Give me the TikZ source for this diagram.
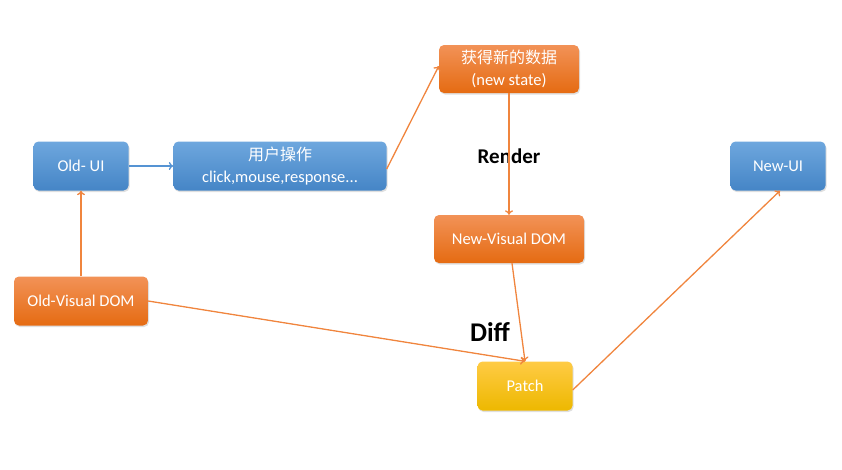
\documentclass[tikz,border=0pt]{standalone}
\usepackage{fontspec}
\setmainfont{Carlito}
\newfontfamily\cjk{Noto Sans CJK SC}
\usetikzlibrary{shadows,arrows.meta}
\definecolor{bluetop}{HTML}{6EA7DE}
\definecolor{bluebot}{HTML}{4585C6}
\definecolor{oratop}{HTML}{F29257}
\definecolor{orabot}{HTML}{E56B12}
\definecolor{yeltop}{HTML}{FFCB45}
\definecolor{yelbot}{HTML}{EDB800}
\definecolor{orline}{HTML}{F0853E}
\definecolor{blline}{HTML}{5593D3}
\begin{document}
\begin{tikzpicture}[x=1pt,y=-1pt,
  box/.style={rounded corners=5pt, text=white, align=center, font=\fontsize{16.5}{22}\selectfont,
    inner sep=0pt, drop shadow={shadow xshift=1pt, shadow yshift=-1.5pt, opacity=0.25}},
  bluebox/.style={box, top color=bluetop, bottom color=bluebot},
  orabox/.style={box, top color=oratop, bottom color=orabot},
  yelbox/.style={box, top color=yeltop, bottom color=yelbot},
  conn/.style={draw=orline, line width=1.3pt, -{To[length=4.5pt,width=8pt]}},
  bconn/.style={draw=blline, line width=1.3pt, -{To[length=4.5pt,width=8pt]}},
  lbl/.style={font=\bfseries\fontsize{21}{24}\selectfont, text=black}]
\useasboundingbox (0,0) rectangle (842,469);
\node[bluebox, minimum width=95pt, minimum height=49pt] (oldui) at (81,166) {Old- UI};
\node[bluebox, minimum width=213pt, minimum height=49pt] (user) at (280,166) {{\cjk\fontsize{16}{22}\selectfont 用户操作}\\click,mouse,response...};
\node[orabox, minimum width=134pt, minimum height=49pt] (olddom) at (81,301) {Old-Visual DOM};
\node[orabox, minimum width=140pt, minimum height=48pt] (state) at (509,69) {{\cjk\fontsize{16}{22}\selectfont 获得新的数据}\\(new state)};
\node[orabox, minimum width=150pt, minimum height=48pt] (newdom) at (509,239) {New-Visual DOM};
\node[yelbox, minimum width=95pt, minimum height=49pt] (patch) at (525,386) {Patch};
\node[bluebox, minimum width=95pt, minimum height=49pt] (newui) at (778,166) {New-UI};
\node[lbl] (render) at (509,156) {Render};
\node[lbl, font=\bfseries\fontsize{27}{30}\selectfont] (diff) at (490,332) {Diff};
\draw[bconn] (oldui.east) -- (user.west);
\draw[conn] (olddom.north) -- (oldui.south);
\coordinate (ustart) at ([yshift=-3pt]user.east);
\coordinate (sin) at ([yshift=3pt]state.west);
\draw[conn] (ustart) -- (sin);
\draw[conn] (state.south) -- (newdom.north);
\coordinate (ndout) at ([xshift=3pt]newdom.south);
\draw[conn] (ndout) -- (patch.north);
\draw[conn] (olddom.east) -- (patch.north);
\coordinate (pout) at ([yshift=-4pt]patch.east);
\coordinate (nuin) at ([xshift=2pt]newui.south);
\draw[conn] (pout) -- (nuin);
\end{tikzpicture}
\end{document}
